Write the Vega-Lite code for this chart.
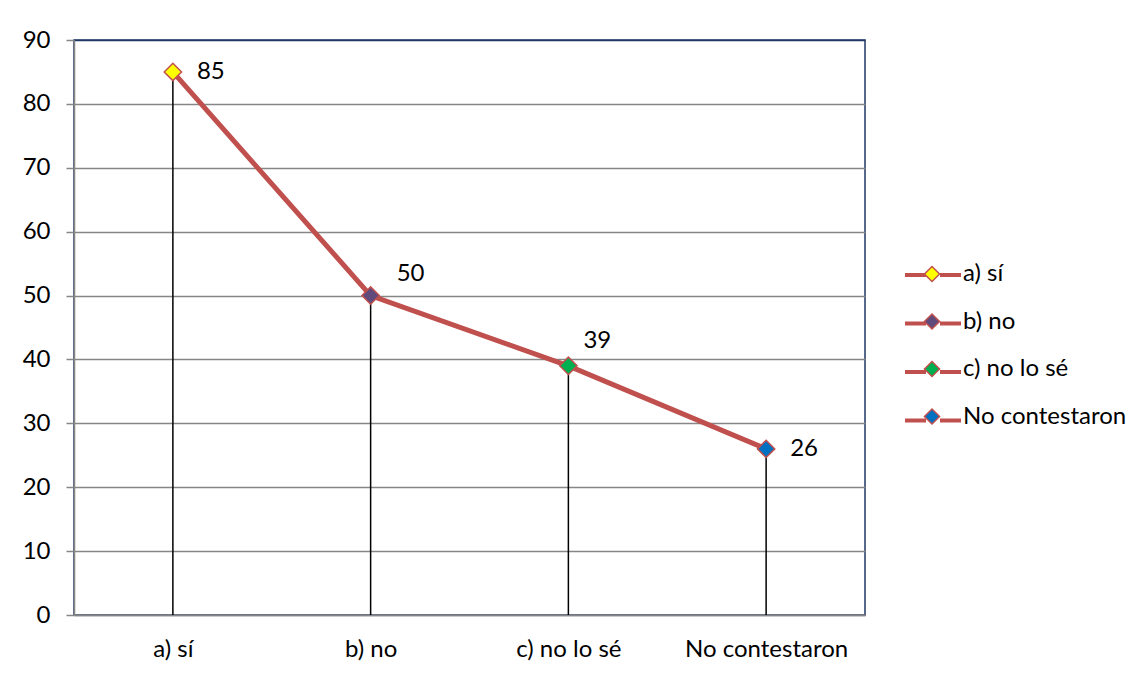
{
  "$schema": "https://vega.github.io/schema/vega-lite/v6.json",
  "autosize": {"type": "none"},
  "width": 791,
  "height": 575,
  "padding": {"left": 74, "top": 40, "right": 281, "bottom": 62},
  "background": "white",
  "config": {
    "font": "Lato",
    "view": {"stroke": "#1F3864", "strokeWidth": 1.5},
    "legend": {"padding": 0}
  },
  "data": {
    "values": [
      {"cat": "a) sí", "v": 85},
      {"cat": "b) no", "v": 50},
      {"cat": "c) no lo sé", "v": 39},
      {"cat": "No contestaron", "v": 26}
    ]
  },
  "encoding": {
    "x": {
      "field": "cat", "type": "nominal", "sort": null,
      "scale": {"type": "point", "padding": 0.5},
      "axis": {
        "title": null, "labelAngle": 0, "labelFontSize": 24, "labelColor": "black",
        "labelPadding": 22, "ticks": false, "grid": false,
        "domainColor": "#868686", "domainWidth": 1.5
      }
    },
    "y": {
      "field": "v", "type": "quantitative",
      "scale": {"domain": [0, 90], "nice": false},
      "axis": {
        "title": null, "values": [0, 10, 20, 30, 40, 50, 60, 70, 80, 90],
        "labelFontSize": 24, "labelColor": "black", "labelPadding": 16,
        "tickSize": 8, "tickColor": "#868686", "tickWidth": 1.5,
        "domainColor": "#868686", "domainWidth": 1.5,
        "gridColor": {"condition": {"test": "datum.value === 90", "value": "#1F3864"}, "value": "#868686"},
        "gridWidth": 1.5
      }
    }
  },
  "layer": [
    {
      "mark": {"type": "rule", "strokeWidth": 1.5, "color": "black"},
      "encoding": {
        "y": {"datum": 0},
        "y2": {"field": "v"}
      }
    },
    {
      "mark": {"type": "line", "strokeWidth": 4},
      "encoding": {
        "stroke": {
          "field": "cat", "type": "nominal",
          "scale": {"domain": ["a) sí", "b) no", "c) no lo sé", "No contestaron"], "range": ["#C0504D", "#C0504D", "#C0504D", "#C0504D"]},
          "legend": {
            "title": null, "orient": "none", "legendX": 829, "legendY": 205,
            "symbolType": "M-1,0H-0.25M0.25,0H1", "symbolSize": 3136, "symbolStrokeWidth": 4,
            "rowPadding": 6.5, "labelExpr": "''", "labelFontSize": 24, "labelOffset": 2,
            "labelLimit": 300
          }
        }
      }
    },
    {
      "mark": {"type": "line", "color": "#C0504D", "strokeWidth": 5}
    },
    {
      "mark": {"type": "point", "shape": "diamond", "filled": true, "size": 300, "stroke": "#C0504D", "strokeWidth": 1.5, "opacity": 1},
      "encoding": {
        "fill": {
          "field": "cat", "type": "nominal", "sort": null,
          "scale": {"range": ["#FFFF00", "#604A7B", "#00B050", "#0070C0"]},
          "legend": {
            "title": null, "orient": "none", "legendX": 829, "legendY": 205,
            "symbolType": "M-0.27,0L0,-0.27L0.27,0L0,0.27Z", "symbolSize": 3136,
            "symbolStrokeColor": "#C0504D", "symbolStrokeWidth": 1.5,
            "rowPadding": 6.5, "labelFontSize": 24, "labelColor": "black", "labelOffset": 2,
            "labelLimit": 300, "symbolOpacity": 1
          }
        }
      }
    },
    {
      "transform": [{"filter": "datum.cat === 'a) sí' || datum.cat === 'No contestaron'"}],
      "mark": {"type": "text", "align": "left", "baseline": "middle", "dx": 24, "fontSize": 24, "color": "black"},
      "encoding": {"text": {"field": "v", "type": "quantitative"}}
    },
    {
      "transform": [{"filter": "datum.cat === 'b) no'"}],
      "mark": {"type": "text", "align": "left", "baseline": "middle", "dx": 26, "dy": -22, "fontSize": 24, "color": "black"},
      "encoding": {"text": {"field": "v", "type": "quantitative"}}
    },
    {
      "transform": [{"filter": "datum.cat === 'c) no lo sé'"}],
      "mark": {"type": "text", "align": "left", "baseline": "middle", "dx": 15, "dy": -25, "fontSize": 24, "color": "black"},
      "encoding": {"text": {"field": "v", "type": "quantitative"}}
    }
  ]
}
